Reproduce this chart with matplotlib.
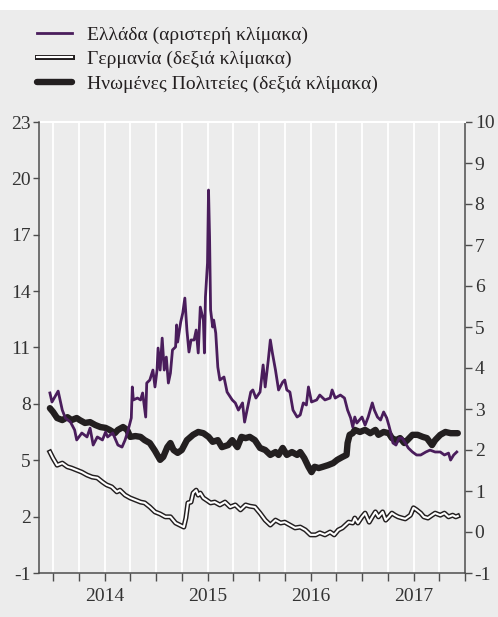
import matplotlib
matplotlib.use("Agg")
import matplotlib.pyplot as plt
import matplotlib.patheffects as pe
from matplotlib.patches import Rectangle

plt.rcParams['font.family'] = ['Liberation Serif', 'DejaVu Serif']

# Ten-year government bond yields (%), dates as decimal years
greece_t = [2013.97, 2013.99, 2014.05, 2014.09, 2014.12, 2014.17, 2014.21, 2014.23, 2014.28, 2014.33,
            2014.36, 2014.39, 2014.43, 2014.48, 2014.51, 2014.53, 2014.58, 2014.63, 2014.67, 2014.70,
            2014.73, 2014.76, 2014.77, 2014.78, 2014.82, 2014.85, 2014.87, 2014.90, 2014.91, 2014.94,
            2014.97, 2014.99, 2015.01, 2015.02, 2015.04, 2015.06, 2015.08, 2015.10, 2015.12, 2015.14,
            2015.16, 2015.19, 2015.20, 2015.21, 2015.24, 2015.26, 2015.28, 2015.30, 2015.32, 2015.34,
            2015.37, 2015.39, 2015.41, 2015.43, 2015.46, 2015.47, 2015.48, 2015.50, 2015.51, 2015.52,
            2015.53, 2015.55, 2015.56, 2015.58, 2015.60, 2015.62, 2015.66, 2015.69, 2015.74, 2015.77,
            2015.80, 2015.84, 2015.86, 2015.89, 2015.92, 2015.94, 2015.97, 2016.01, 2016.04, 2016.06,
            2016.09, 2016.11, 2016.13, 2016.16, 2016.19, 2016.23, 2016.25, 2016.27, 2016.30, 2016.33,
            2016.37, 2016.40, 2016.43, 2016.46, 2016.48, 2016.51, 2016.56, 2016.59, 2016.64, 2016.69,
            2016.71, 2016.74, 2016.79, 2016.83, 2016.86, 2016.89, 2016.91, 2016.93, 2016.95, 2017.00,
            2017.03, 2017.06, 2017.10, 2017.12, 2017.15, 2017.18, 2017.21, 2017.24, 2017.26, 2017.28,
            2017.30, 2017.33, 2017.36, 2017.39, 2017.42, 2017.45, 2017.49, 2017.53, 2017.57, 2017.62,
            2017.66, 2017.71, 2017.76, 2017.80, 2017.84, 2017.86, 2017.89, 2017.92]
greece_v = [8.58, 8.10, 8.68, 7.67, 7.25, 7.03, 6.61, 6.08, 6.45, 6.24,
            6.71, 5.81, 6.24, 6.08, 6.50, 6.24, 6.45, 5.81, 5.70, 6.08,
            6.61, 7.25, 8.90, 8.21, 8.31, 8.21, 8.58, 7.30, 9.11, 9.27,
            9.80, 8.90, 9.80, 10.97, 9.80, 11.50, 9.80, 10.49, 9.11, 9.64,
            10.87, 11.03, 12.20, 11.29, 12.36, 12.84, 13.63, 11.93, 10.76, 11.40,
            11.40, 11.93, 10.71, 13.15, 12.46, 10.71, 13.69, 15.50, 19.38, 16.88,
            13.00, 12.09, 12.46, 11.77, 9.96, 9.27, 9.43, 8.63, 8.21, 8.05,
            7.67, 8.05, 7.03, 7.83, 8.63, 8.74, 8.31, 8.63, 10.07, 8.90,
            10.33, 11.40, 10.71, 9.80, 8.74, 9.16, 9.27, 8.74, 8.63, 7.67,
            7.30, 7.41, 8.05, 7.94, 8.90, 8.10, 8.21, 8.47, 8.21, 8.31,
            8.74, 8.31, 8.47, 8.31, 7.67, 7.25, 6.77, 7.30, 6.98, 7.30,
            6.87, 7.30, 8.05, 7.67, 7.30, 7.14, 7.57, 7.25, 6.87, 6.45,
            5.92, 5.81, 6.18, 6.18, 5.92, 5.65, 5.44, 5.28, 5.28, 5.44,
            5.54, 5.44, 5.44, 5.28, 5.38, 5.01, 5.28, 5.44]

us_t = [2013.97, 2014.00, 2014.04, 2014.09, 2014.14, 2014.18, 2014.23, 2014.26, 2014.31, 2014.36,
        2014.41, 2014.46, 2014.51, 2014.55, 2014.60, 2014.63, 2014.68, 2014.72, 2014.75, 2014.80,
        2014.85, 2014.89, 2014.94, 2014.99, 2015.04, 2015.07, 2015.11, 2015.14, 2015.17, 2015.21,
        2015.25, 2015.30, 2015.36, 2015.41, 2015.46, 2015.51, 2015.55, 2015.60, 2015.64, 2015.70,
        2015.74, 2015.79, 2015.83, 2015.87, 2015.91, 2015.96, 2016.01, 2016.06, 2016.11, 2016.16,
        2016.19, 2016.23, 2016.27, 2016.32, 2016.37, 2016.40, 2016.44, 2016.48, 2016.51, 2016.54,
        2016.58, 2016.62, 2016.67, 2016.72, 2016.76, 2016.81, 2016.85, 2016.86, 2016.88, 2016.91,
        2016.93, 2016.98, 2017.03, 2017.08, 2017.13, 2017.16, 2017.21, 2017.26, 2017.29, 2017.33,
        2017.37, 2017.41, 2017.44, 2017.49, 2017.54, 2017.59, 2017.63, 2017.68, 2017.71, 2017.76,
        2017.81, 2017.86, 2017.91, 2017.93]
us_v = [3.02, 2.93, 2.78, 2.73, 2.80, 2.73, 2.78, 2.73, 2.66, 2.68,
        2.61, 2.56, 2.54, 2.49, 2.41, 2.49, 2.56, 2.49, 2.32, 2.34,
        2.32, 2.24, 2.17, 1.98, 1.76, 1.83, 2.07, 2.17, 2.00, 1.93,
        2.00, 2.24, 2.37, 2.44, 2.41, 2.32, 2.20, 2.24, 2.07, 2.12,
        2.24, 2.07, 2.32, 2.29, 2.32, 2.24, 2.05, 2.00, 1.88, 1.95,
        1.88, 2.05, 1.88, 1.95, 1.88, 1.95, 1.80, 1.59, 1.46, 1.59,
        1.56, 1.59, 1.63, 1.68, 1.76, 1.83, 1.88, 2.17, 2.37, 2.41,
        2.49, 2.44, 2.49, 2.41, 2.49, 2.37, 2.44, 2.41, 2.29, 2.24,
        2.29, 2.17, 2.24, 2.37, 2.37, 2.32, 2.29, 2.12, 2.24, 2.37,
        2.44, 2.41, 2.41, 2.41]

germany_t = [2013.97, 2014.00, 2014.04, 2014.09, 2014.14, 2014.18, 2014.23, 2014.28, 2014.33, 2014.38,
             2014.43, 2014.48, 2014.52, 2014.57, 2014.62, 2014.65, 2014.70, 2014.75, 2014.80, 2014.85,
             2014.89, 2014.94, 2014.99, 2015.04, 2015.09, 2015.14, 2015.19, 2015.23, 2015.27, 2015.29,
             2015.31, 2015.34, 2015.36, 2015.39, 2015.41, 2015.43, 2015.46, 2015.49, 2015.53, 2015.57,
             2015.62, 2015.67, 2015.72, 2015.77, 2015.82, 2015.87, 2015.91, 2015.96, 2016.01, 2016.06,
             2016.11, 2016.16, 2016.21, 2016.25, 2016.30, 2016.35, 2016.40, 2016.45, 2016.50, 2016.55,
             2016.59, 2016.64, 2016.69, 2016.73, 2016.77, 2016.81, 2016.84, 2016.87, 2016.91, 2016.93,
             2016.96, 2017.00, 2017.03, 2017.07, 2017.10, 2017.13, 2017.16, 2017.20, 2017.23, 2017.26,
             2017.29, 2017.32, 2017.35, 2017.39, 2017.42, 2017.47, 2017.50, 2017.53, 2017.57, 2017.60,
             2017.64, 2017.68, 2017.71, 2017.76, 2017.80, 2017.84, 2017.88, 2017.91, 2017.93]
germany_v = [1.95, 1.80, 1.63, 1.68, 1.59, 1.56, 1.51, 1.46, 1.39, 1.34,
             1.32, 1.22, 1.15, 1.10, 0.98, 1.02, 0.90, 0.83, 0.78, 0.73,
             0.71, 0.61, 0.49, 0.44, 0.37, 0.37, 0.22, 0.17, 0.12, 0.34,
             0.71, 0.73, 0.95, 1.02, 0.90, 0.95, 0.83, 0.78, 0.71, 0.73,
             0.66, 0.73, 0.61, 0.66, 0.54, 0.66, 0.63, 0.61, 0.46, 0.29,
             0.17, 0.29, 0.22, 0.24, 0.17, 0.10, 0.12, 0.05, -0.07, -0.07,
             -0.02, -0.07, 0.00, -0.07, 0.05, 0.10, 0.17, 0.24, 0.22, 0.34,
             0.22, 0.37, 0.46, 0.24, 0.37, 0.49, 0.37, 0.49, 0.29, 0.37,
             0.46, 0.41, 0.37, 0.34, 0.32, 0.41, 0.59, 0.54, 0.46, 0.37,
             0.34, 0.41, 0.46, 0.41, 0.46, 0.37, 0.41, 0.37, 0.39]

labels = ['Ελλάδα (αριστερή κλίμακα)',
          'Γερμανία (δεξιά κλίμακα)',
          'Ηνωμένες Πολιτείες (δεξιά κλίμακα)']
years = [2014, 2015, 2016, 2017]
left_ticks = [-1, 2, 5, 8, 11, 14, 17, 20, 23]
right_ticks = list(range(-1, 11))

BG = '#ececec'
INK = '#231f20'
AXC = '#4d4d4d'
TXT = '#333333'
PURPLE = '#4a1d5c'
FS = 14

W, H = 498, 617
fig = plt.figure(figsize=(W / 100, H / 100), dpi=100, facecolor=BG)
fig.add_artist(Rectangle((0, 1 - 10 / H), 1, 10 / H, transform=fig.transFigure,
                         facecolor='white', edgecolor='none'))

rect = [39 / W, 1 - 573 / H, (465 - 39) / W, (573 - 122) / H]
ax2 = fig.add_axes(rect)   # right scale, carries background, grid and x axis
ax = fig.add_axes(rect)    # left scale, drawn on top
ax.patch.set_visible(False)
ax2.set_facecolor(BG)

x_lo, x_hi = 2013.864, 2018.0
for a in (ax, ax2):
    a.set_xlim(x_lo, x_hi)
ax.set_ylim(-1, 23)
ax2.set_ylim(-1, 10)

# quarterly white gridlines
quarters = [y + q / 4 for y in years for q in range(4)]
for q in quarters:
    ax2.axvline(q, color='white', lw=1.3, zorder=0.5)

# series
l_de, = ax2.plot(germany_t, germany_v, color='white', lw=1.5, zorder=2,
                 path_effects=[pe.Stroke(linewidth=3.6, foreground=INK), pe.Normal()],
                 solid_joinstyle='round')
l_us, = ax2.plot(us_t, us_v, color=INK, lw=4.6, zorder=3, solid_joinstyle='round',
                 solid_capstyle='round')
l_gr, = ax.plot(greece_t, greece_v, color=PURPLE, lw=2.0, zorder=4,
                solid_joinstyle='round')

# spines
for a in (ax, ax2):
    for s in a.spines.values():
        s.set_visible(False)
for a, side in ((ax, 'left'), (ax2, 'right'), (ax2, 'bottom')):
    a.spines[side].set_visible(True)
    a.spines[side].set_color(AXC)
    a.spines[side].set_linewidth(1.1)
ax2.spines['top'].set_visible(True)
ax2.spines['top'].set_color('white')
ax2.spines['top'].set_linewidth(1.5)

# y ticks
ax.set_yticks(left_ticks)
ax.set_yticklabels([str(v) for v in left_ticks])
ax.tick_params(axis='y', direction='out', length=4, width=1, color=AXC, pad=2,
               labelsize=FS, labelcolor=TXT, left=True, right=False)
ax.tick_params(axis='x', which='both', bottom=False, labelbottom=False)
ax2.yaxis.tick_right()
ax2.set_yticks(right_ticks)
ax2.set_yticklabels([str(v) for v in right_ticks])
ax2.tick_params(axis='y', direction='out', length=5, width=1, color=AXC, pad=2,
                labelsize=FS, labelcolor=TXT)

# x ticks: quarters marked, years labelled at mid-year
ax2.set_xticks(quarters + [x_hi])
ax2.set_xticklabels([''] * (len(quarters) + 1))
ax2.tick_params(axis='x', which='major', direction='out', length=6, width=1, color=AXC)
for y in years:
    ax2.text(y + 0.5, -0.034, str(y), transform=ax2.get_xaxis_transform(),
             ha='center', va='top', fontsize=FS, color=TXT)

# legend
leg = fig.legend([l_gr, l_de, l_us], labels, loc='upper left',
                 bbox_to_anchor=(37 / W, 1 - 26 / H), frameon=False,
                 fontsize=FS, handlelength=1.8, handletextpad=0.75,
                 labelspacing=0.36, borderaxespad=0, borderpad=0)
for t in leg.get_texts():
    t.set_color(INK)

fig.savefig('out.png', dpi=100, facecolor=BG)
